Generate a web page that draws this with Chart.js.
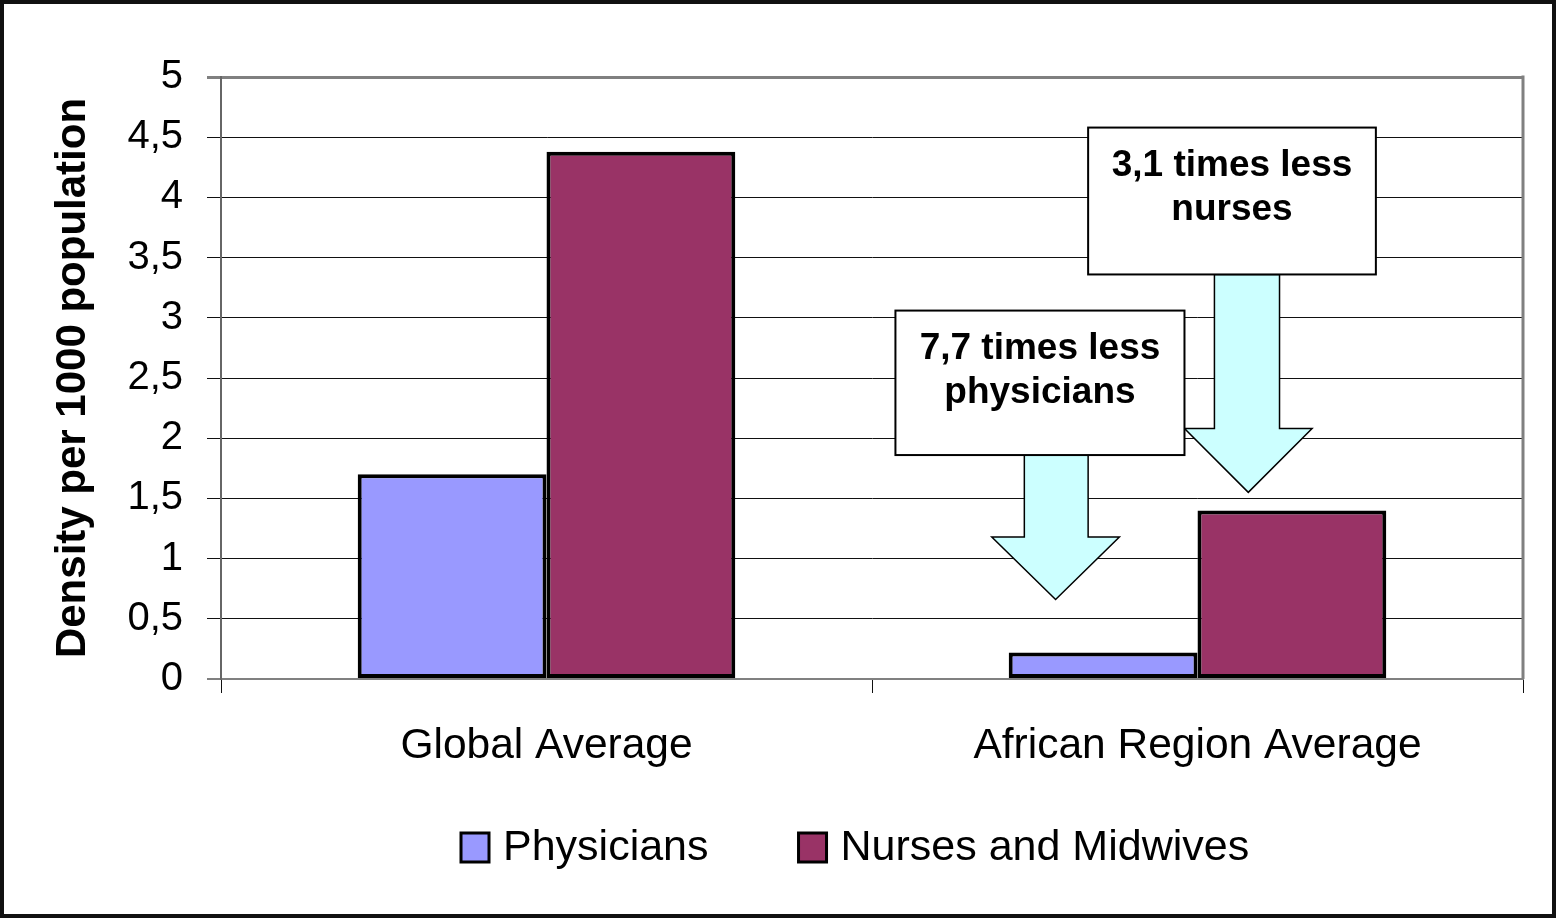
<!DOCTYPE html>
<html>
<head>
<meta charset="utf-8">
<script src="https://cdn.jsdelivr.net/npm/chart.js@4.4.1/dist/chart.umd.min.js"></script>
<style>
  html, body { margin: 0; padding: 0; background: #fff; }
  #wrap { width: 1556px; height: 918px; }
</style>
</head>
<body>
<div id="wrap"><canvas id="chart" width="1556" height="918"></canvas></div>
<script>
// data
const categories = ['Global Average', 'African Region Average'];
const seriesNames = ['Physicians', 'Nurses and Midwives'];
const physicians = [1.7, 0.22];
const nurses = [4.38, 1.4];
const yTickLabels = ['0', '0,5', '1', '1,5', '2', '2,5', '3', '3,5', '4', '4,5', '5'];

const colors = ['#9999FF', '#993366'];
const FONT = "'Liberation Sans', Arial, sans-serif";

// callouts: x as a fraction of the plot width, y in axis units
const callouts = [
    {
        lines: ['3,1 times less', 'nurses'],
        box: { x0: 0.666, x1: 0.887, yTop: 4.58, yBottom: 3.36 },
        arrow: { shaft: [0.763, 0.813], neck: 2.08, head: [0.740, 0.838], tip: 1.55 }
    },
    {
        lines: ['7,7 times less', 'physicians'],
        box: { x0: 0.518, x1: 0.740, yTop: 3.06, yBottom: 1.86 },
        arrow: { shaft: [0.617, 0.666], neck: 1.18, head: [0.592, 0.690], tip: 0.66 }
    }
];

const framePlugin = {
    id: 'frame',
    beforeDraw(chart) {
        const ctx = chart.ctx;
        ctx.save();
        ctx.fillStyle = '#fff';
        ctx.fillRect(0, 0, chart.width, chart.height);
        ctx.restore();
    },
    afterDraw(chart) {
        const ctx = chart.ctx;
        const a = chart.chartArea;
        ctx.save();
        // right side of plot frame
        ctx.strokeStyle = '#808080';
        ctx.lineWidth = 3;
        ctx.beginPath();
        ctx.moveTo(a.right, a.top - 1.5);
        ctx.lineTo(a.right, a.bottom);
        ctx.stroke();
        // outer border
        ctx.strokeStyle = '#111';
        ctx.lineWidth = 4;
        ctx.strokeRect(2, 2, chart.width - 4, chart.height - 4);
        ctx.restore();
    }
};

const calloutPlugin = {
    id: 'callouts',
    afterDatasetsDraw(chart) {
        const ctx = chart.ctx;
        const a = chart.chartArea;
        const y = chart.scales.y;
        const px = f => a.left + f * (a.right - a.left);
        ctx.save();
        callouts.forEach(c => {
            const boxTop = y.getPixelForValue(c.box.yTop);
            const boxBottom = y.getPixelForValue(c.box.yBottom);
            const ar = c.arrow;
            const tipX = (px(ar.head[0]) + px(ar.head[1])) / 2;
            // arrow
            ctx.beginPath();
            ctx.moveTo(px(ar.shaft[0]), boxBottom);
            ctx.lineTo(px(ar.shaft[0]), y.getPixelForValue(ar.neck));
            ctx.lineTo(px(ar.head[0]), y.getPixelForValue(ar.neck));
            ctx.lineTo(tipX, y.getPixelForValue(ar.tip));
            ctx.lineTo(px(ar.head[1]), y.getPixelForValue(ar.neck));
            ctx.lineTo(px(ar.shaft[1]), y.getPixelForValue(ar.neck));
            ctx.lineTo(px(ar.shaft[1]), boxBottom);
            ctx.closePath();
            ctx.fillStyle = '#CCFFFF';
            ctx.fill();
            ctx.strokeStyle = '#000';
            ctx.lineWidth = 1.5;
            ctx.stroke();
            // box
            const x0 = px(c.box.x0), x1 = px(c.box.x1);
            ctx.fillStyle = '#fff';
            ctx.fillRect(x0, boxTop, x1 - x0, boxBottom - boxTop);
            ctx.lineWidth = 2;
            ctx.strokeRect(x0, boxTop, x1 - x0, boxBottom - boxTop);
            // text
            ctx.fillStyle = '#000';
            ctx.font = 'bold 37px ' + FONT;
            ctx.textAlign = 'center';
            ctx.textBaseline = 'middle';
            c.lines.forEach((t, i) => {
                ctx.fillText(t, (x0 + x1) / 2, boxTop + 38 + i * 44);
            });
        });
        ctx.restore();
    }
};

const legendPlugin = {
    id: 'customLegend',
    afterDraw(chart) {
        const ctx = chart.ctx;
        ctx.save();
        ctx.font = '43px ' + FONT;
        ctx.textAlign = 'left';
        ctx.textBaseline = 'middle';
        let x = 461;
        const cy = 848;
        chart.data.datasets.forEach(ds => {
            ctx.fillStyle = ds.backgroundColor;
            ctx.fillRect(x, cy - 15, 28, 29);
            ctx.strokeStyle = '#000';
            ctx.lineWidth = 3;
            ctx.strokeRect(x, cy - 15, 28, 29);
            ctx.fillStyle = '#000';
            ctx.fillText(ds.label, x + 42, cy);
            x += 42 + ctx.measureText(ds.label).width + 90;
        });
        ctx.restore();
    }
};

const gridColor = c => (c.index === 10 || c.index === 0) ? '#808080' : '#111';
const gridWidth = c => c.index === 10 ? 3 : (c.index === 0 ? 2 : 1);

new Chart(document.getElementById('chart'), {
    type: 'bar',
    data: {
        labels: categories,
        datasets: [{
            label: seriesNames[0],
            data: physicians,
            backgroundColor: colors[0],
            borderColor: '#000',
            borderWidth: 4,
            borderSkipped: false
        }, {
            label: seriesNames[1],
            data: nurses,
            backgroundColor: colors[1],
            borderColor: '#000',
            borderWidth: 4,
            borderSkipped: false
        }]
    },
    options: {
        responsive: false,
        animation: false,
        layout: { padding: { top: 77, right: 33, left: 40, bottom: 103 } },
        datasets: { bar: { categoryPercentage: 0.58, barPercentage: 1 } },
        plugins: {
            legend: { display: false },
            tooltip: { enabled: false }
        },
        scales: {
            x: {
                afterFit: s => { s.height = 136; },
                grid: {
                    offset: true,
                    drawOnChartArea: false,
                    drawTicks: true,
                    tickLength: 14,
                    color: '#111',
                    lineWidth: 1
                },
                border: { color: '#808080', width: 2 },
                ticks: {
                    color: '#000',
                    padding: 28,
                    font: { family: FONT, size: 42.5 }
                }
            },
            y: {
                min: 0,
                max: 5,
                afterFit: s => { s.width = 181; },
                afterBuildTicks: s => { s.ticks = yTickLabels.map((_, i) => ({ value: i * 0.5 })); },
                title: {
                    display: true,
                    text: 'Density per 1000 population',
                    color: '#000',
                    padding: { top: 8, bottom: 0 },
                    font: { family: FONT, size: 42, weight: 'bold' }
                },
                grid: {
                    color: gridColor,
                    lineWidth: gridWidth,
                    tickLength: 14
                },
                border: { color: '#666', width: 2 },
                ticks: {
                    color: '#000',
                    padding: 24,
                    font: { family: FONT, size: 40 },
                    callback: (v, i) => yTickLabels[i]
                }
            }
        }
    },
    plugins: [framePlugin, calloutPlugin, legendPlugin]
});
</script>
</body>
</html>
